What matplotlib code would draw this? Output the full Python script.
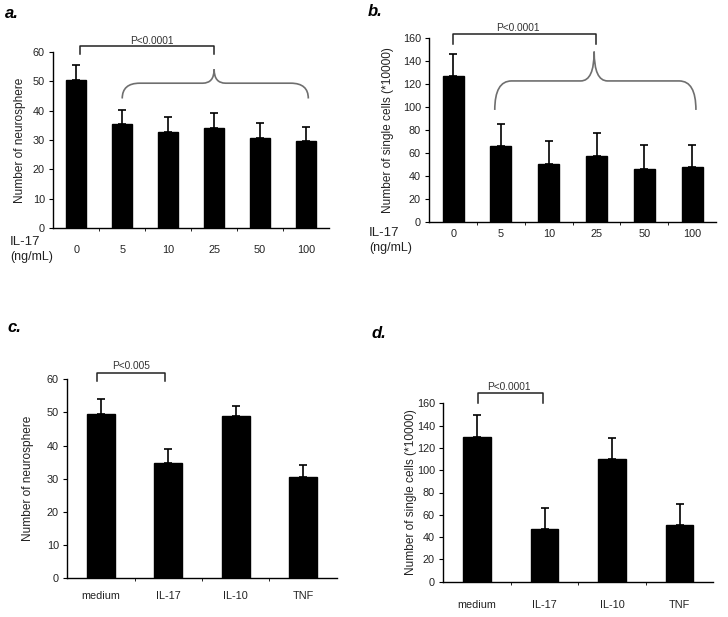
import numpy as np
import matplotlib
matplotlib.use("Agg")
import matplotlib.pyplot as plt
from matplotlib.path import Path
from matplotlib.patches import PathPatch

plt.rcParams['font.family'] = ['Liberation Sans', 'DejaVu Sans']

W, H = 728, 617

# ---- data ----
dose_labels = ["0", "5", "10", "25", "50", "100"]
a_mean = [50.4, 35.3, 32.7, 34.1, 30.6, 29.7]
a_err = [5.0, 4.9, 5.2, 5.2, 5.1, 4.8]
b_mean = [127.1, 66.0, 50.3, 57.3, 46.0, 48.0]
b_err = [19.5, 19.5, 19.8, 19.8, 20.9, 19.2]
cyto_labels = ["medium", "IL-17", "IL-10", "TNF"]
c_mean = [49.5, 34.7, 48.9, 30.5]
c_err = [4.7, 4.4, 2.9, 3.7]
d_mean = [129.5, 47.0, 109.7, 50.5]
d_err = [20.0, 19.4, 19.2, 19.5]

fig = plt.figure(figsize=(W / 100, H / 100), dpi=100)


def px_axes(l, t, r, b):
    return fig.add_axes([l / W, 1 - b / H, (r - l) / W, (b - t) / H])


def bar_panel(ax, labels, mean, err, ymax, ystep, width, ylabel, lab_pad):
    n = len(labels)
    x = np.arange(n)
    ax.bar(x, mean, width=width, color="black", edgecolor="black", zorder=2)
    ax.errorbar(x, mean, yerr=[np.zeros(n), err], fmt="none", ecolor="black",
                elinewidth=1.2, capsize=3, capthick=1.2, zorder=3)
    ax.set_xlim(-0.5, n - 0.5)
    ax.set_ylim(0, ymax)
    ax.set_yticks(np.arange(0, ymax + 1, ystep))
    ax.spines[["top", "right"]].set_visible(False)
    ax.spines[["left", "bottom"]].set_linewidth(1.0)
    ax.tick_params(axis="y", labelsize=7.8, length=3, width=0.8, pad=3,
                   labelcolor="#222222")
    ax.set_xticks(np.arange(n - 1) + 0.5)
    ax.set_xticklabels([])
    ax.tick_params(axis="x", which="major", length=2.5, width=0.6)
    ax.set_xticks(x, minor=True)
    ax.set_xticklabels(labels, minor=True)
    ax.tick_params(axis="x", which="minor", length=0, labelsize=7.8, pad=lab_pad,
                   labelcolor="#222222")
    ax.set_ylabel(ylabel, fontsize=8.6, color="#222222")


def bracket(ax, x0, x1, ytop, ytick, text, ytext, xtext):
    ax.plot([x0, x0, x1, x1], [ytick, ytop, ytop, ytick], color="#222222",
            lw=1.1, clip_on=False, zorder=4)
    ax.text(xtext, ytext, text, ha="center", va="bottom", fontsize=7.3,
            color="#333333", clip_on=False)


def brace(ax, x0, x1, xm, yb, yf, yt, dend, dtip):
    verts = [(x0, yb), (x0, yf), (x0 + dend, yf),
             (xm - dtip, yf), (xm, yf), (xm, yt),
             (xm, yf), (xm + dtip, yf),
             (x1 - dend, yf), (x1, yf), (x1, yb)]
    codes = [Path.MOVETO, Path.CURVE3, Path.CURVE3,
             Path.LINETO, Path.CURVE3, Path.CURVE3,
             Path.CURVE3, Path.CURVE3,
             Path.LINETO, Path.CURVE3, Path.CURVE3]
    ax.add_patch(PathPatch(Path(verts, codes), fill=False, edgecolor="#6f6f6f",
                           lw=1.2, clip_on=False, zorder=4))


# ---- a ----
axa = px_axes(53.3, 51.7, 329, 228.3)
bar_panel(axa, dose_labels, a_mean, a_err, 60, 10, 0.43, "Number of neurosphere", 12)
bracket(axa, 0.08, 3.0, 61.9, 59.2, "P<0.0001", 62.1, 1.65)
brace(axa, 1.0, 5.05, 3.0, 44.1, 49.3, 54.0, 0.38, 0.25)
axa.yaxis.set_label_coords(-0.10, 0.5)

# ---- b ----
axb = px_axes(429.3, 38.3, 716, 221.7)
bar_panel(axb, dose_labels, b_mean, b_err, 160, 20, 0.44,
          "Number of single cells (*10000)", 5)
bracket(axb, -0.01, 2.98, 163.8, 155.3, "P<0.0001", 164.5, 1.36)
brace(axb, 0.87, 5.08, 2.95, 97.5, 122.8, 148.4, 0.35, 0.28)
axb.yaxis.set_label_coords(-0.123, 0.5)

for tx, ty in [(10, 242), (369, 233)]:
    fig.text(tx / W, 1 - ty / H, "IL-17", fontsize=9.5, color="#222222",
             ha="left", va="center")
    fig.text(tx / W, 1 - (ty + 15) / H, "(ng/mL)", fontsize=9, color="#222222",
             ha="left", va="center")

# ---- c ----
axc = px_axes(67.3, 379.3, 336.7, 578.3)
bar_panel(axc, cyto_labels, c_mean, c_err, 60, 10, 0.42, "Number of neurosphere", 9)
bracket(axc, -0.06, 0.95, 62.0, 59.6, "P<0.005", 62.4, 0.45)
axc.yaxis.set_label_coords(-0.124, 0.5)

# ---- d ----
axd = px_axes(443.3, 403.3, 713.3, 581.7)
bar_panel(axd, cyto_labels, d_mean, d_err, 160, 20, 0.41,
          "Number of single cells (*10000)", 13)
bracket(axd, 0.01, 0.98, 169.0, 160.0, "P<0.0001", 170.0, 0.47)
axd.yaxis.set_label_coords(-0.097, 0.5)

# panel letters
for lx, ly, s in [(5, 13, "a."), (368, 12, "b."), (7, 327, "c."), (372, 333, "d.")]:
    fig.text(lx / W, 1 - ly / H, s, fontsize=12, fontweight="bold",
             fontstyle="italic", ha="left", va="center")

fig.savefig("out.png", dpi=100)
